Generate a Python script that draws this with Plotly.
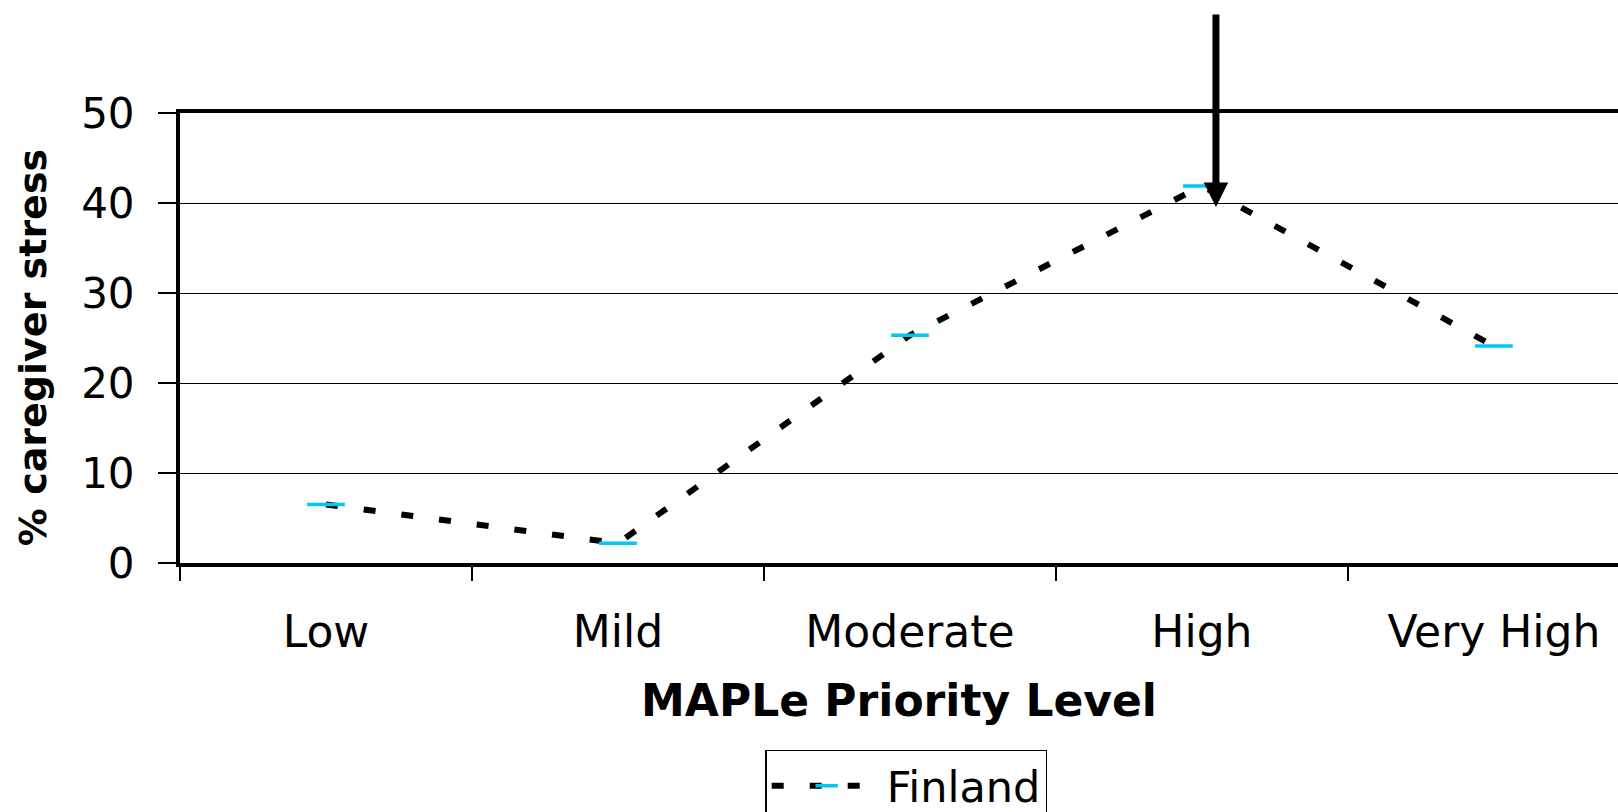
import plotly.graph_objects as go

categories = ["Low", "Mild", "Moderate", "High", "Very High"]
finland = [6.5, 2.2, 25.3, 41.9, 24.1]
y_ticks = [0, 10, 20, 30, 40, 50]
series_name = "Finland"

FONT = "DejaVu Sans"

fig = go.Figure()
fig.add_trace(go.Scatter(
    x=categories,
    y=finland,
    name=series_name,
    mode="lines+markers",
    line=dict(color="black", width=6, dash="12px,26px"),
    marker=dict(symbol="line-ew", size=27, color="#00C8F5",
                line=dict(color="#00C8F5", width=3.5)),
))

# arrow pointing at the "High" peak
fig.add_annotation(
    x=3.048, y=39.56, xref="x", yref="y",
    ax=3.048, ay=61.1, axref="x", ayref="y",
    showarrow=True, arrowhead=2, arrowwidth=7, arrowsize=0.7,
    arrowcolor="black", standoff=0, text="",
)

fig.update_layout(
    width=1618, height=812,
    margin=dict(l=180, r=0, t=113, b=249, autoexpand=False),
    paper_bgcolor="white", plot_bgcolor="white",
    font=dict(family=FONT, color="black", size=44),
    showlegend=True,
    legend=dict(
        x=0.505, xanchor="center", y=-0.415, yanchor="top",
        bordercolor="black", borderwidth=1.5,
        font=dict(family=FONT, size=43, color="black"),
        itemwidth=110,
    ),
    xaxis=dict(
        type="category",
        range=[-0.5, 4.425],
        showline=True, linecolor="black", linewidth=4, mirror=True,
        ticks="outside", ticklen=14, tickwidth=1.5, tickcolor="black",
        tickson="boundaries",
        showgrid=False,
        tickfont=dict(family=FONT, size=44, color="black"),
        ticklabelstandoff=27,
        title=dict(text="<b>MAPLe Priority Level</b>",
                   font=dict(family=FONT, size=44, color="black"),
                   standoff=30),
        automargin=False,
    ),
    yaxis=dict(
        range=[0, 50],
        tickvals=y_ticks,
        showline=True, linecolor="black", linewidth=4, mirror=False,
        ticks="outside", ticklen=18, tickwidth=1.5, tickcolor="black",
        showgrid=True, gridcolor="black", gridwidth=1.2,
        zeroline=False,
        tickfont=dict(family=FONT, size=42, color="black"),
        ticklabelstandoff=15,
        title=dict(text="<b>% caregiver stress\u2002</b>",
                   font=dict(family=FONT, size=38, color="black"),
                   standoff=24),
        automargin=False,
    ),
)

fig.write_html("out.html")
